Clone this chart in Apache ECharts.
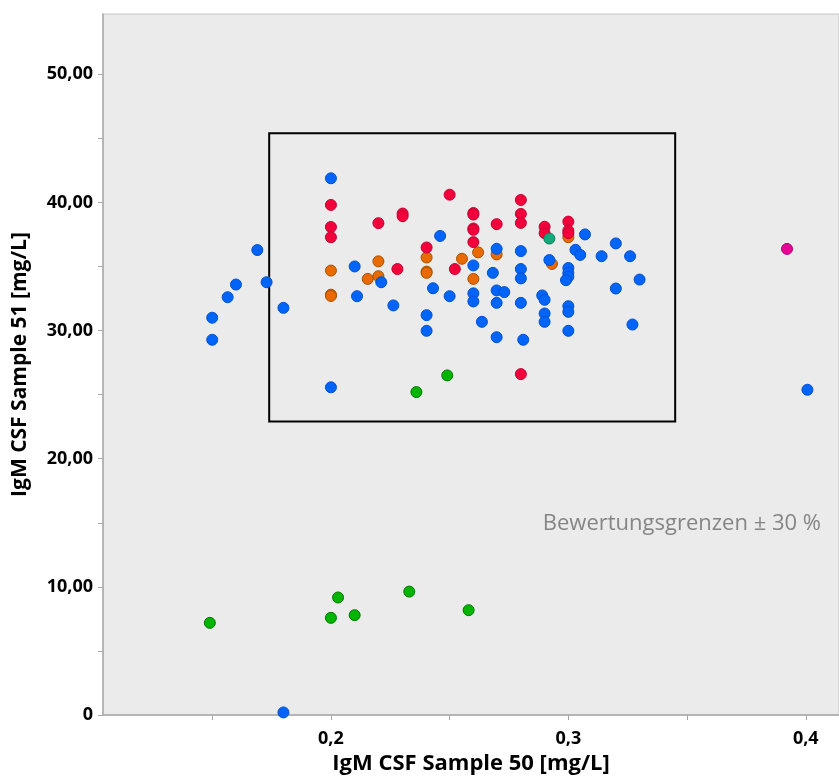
<!DOCTYPE html>
<html>
<head>
<meta charset="utf-8">
<script src="https://cdn.jsdelivr.net/npm/echarts@6/dist/echarts.min.js"></script>
<style>
html,body{margin:0;padding:0;background:#fff;}
#c{width:839px;height:780px;}
</style>
</head>
<body>
<div id="c"></div>
<script>
// ---- data ----
const blueX = [0.2,0.169,0.21,0.2212,0.160,0.1729,0.1565,0.211,0.2263,0.180,0.150,0.150,0.2,0.2698,0.246,0.28,0.26,0.2682,0.28,0.28,0.292,0.3,0.3,0.3,0.299,0.307,0.303,0.305,0.314,0.320,0.326,0.330,0.320,0.327,0.243,0.25,0.26,0.26,0.2698,0.273,0.2698,0.28,0.289,0.29,0.29,0.29,0.3,0.3,0.3,0.2403,0.2403,0.2636,0.2698,0.281,0.18,0.4007];
const blueY = [41.88,36.28,35.0,33.77,33.59,33.77,32.6,32.68,31.96,31.77,31.0,29.28,25.57,36.38,37.38,36.2,35.08,34.5,34.8,34.07,35.5,34.88,34.5,34.2,33.93,37.5,36.3,35.9,35.8,36.8,35.8,33.98,33.28,30.47,33.3,32.68,32.9,32.27,33.13,33.0,32.16,32.16,32.74,32.4,31.33,30.68,31.9,31.46,29.98,31.2,29.98,30.68,29.48,29.28,0.2,25.38];
const redX = [0.2,0.2,0.2,0.22,0.2302,0.2302,0.228,0.25,0.26,0.26,0.26,0.26,0.26,0.2698,0.28,0.28,0.28,0.29,0.29,0.3,0.3,0.3,0.2403,0.2522,0.28];
const redY = [39.8,38.08,37.28,38.38,39.13,38.92,34.8,40.6,39.17,39.05,37.96,37.86,36.9,38.3,40.19,39.1,38.4,38.1,37.6,38.5,37.8,37.6,36.48,34.8,26.6];
const orangeX = [0.2,0.22,0.2155,0.22,0.2,0.2,0.3,0.2403,0.2403,0.2403,0.2552,0.262,0.26,0.2698,0.2931];
const orangeY = [34.68,35.4,34.03,34.24,32.8,32.7,37.28,35.7,34.6,34.5,35.6,36.1,34.03,35.94,35.2];
const greenX = [0.249,0.236,0.149,0.2,0.203,0.21,0.233,0.258];
const greenY = [26.5,25.2,7.19,7.58,9.17,7.79,9.63,8.18];
const tealX = [0.292];
const tealY = [37.18];
const magentaX = [0.3921];
const magentaY = [36.37];
// evaluation limits box
const boxX = [0.174, 0.345];
const boxY = [22.9, 45.4];
// axes
const xTicks = [0.15,0.2,0.25,0.3,0.35,0.4];
const xLabels = [0.2,0.3,0.4];
const yTicks = [0,5,10,15,20,25,30,35,40,45,50];
const yLabels = [0,10,20,30,40,50];
const xName = 'IgM CSF Sample 50 [mg/L]';
const yName = 'IgM CSF Sample 51 [mg/L]';
const noteText = 'Bewertungsgrenzen ± 30 %';

const zip = (xs, ys) => xs.map((x, i) => [x, ys[i]]);
const FONT = '"Open Sans", "Noto Sans", sans-serif';

function sc(name, xs, ys, color, border, z) {
  return {
    type: 'scatter', name, data: zip(xs, ys), symbolSize: 11, z: z,
    itemStyle: { color: color, borderColor: border, borderWidth: 1, opacity: 1 },
    emphasis: { disabled: true }
  };
}

const chart = echarts.init(document.getElementById('c'));
chart.setOption({
  animation: false,
  backgroundColor: '#ffffff',
  grid: { left: 103, right: 0, top: 14, bottom: 64, show: true, backgroundColor: '#ebebeb', borderColor: '#c4c4c4', borderWidth: 1 },
  xAxis: {
    type: 'value', min: 0.104, max: 0.414,
    name: xName, nameLocation: 'middle', nameGap: 38,
    nameTextStyle: { fontFamily: FONT, fontWeight: 'bold', fontSize: 22, color: '#000' },
    axisLine: { show: true, lineStyle: { color: '#a8a8a8', width: 1.5 } },
    axisTick: { show: true, customValues: xTicks, length: 5, lineStyle: { color: '#a8a8a8' } },
    axisLabel: { customValues: xLabels, margin: 15, fontFamily: FONT, fontWeight: 'bold', fontSize: 18, color: '#000',
      formatter: v => String(Math.round(v * 10) / 10).replace('.', ',') },
    splitLine: { show: false }
  },
  yAxis: {
    type: 'value', min: 0, max: 54.7,
    name: yName, nameLocation: 'middle', nameGap: 72,
    nameTextStyle: { fontFamily: FONT, fontWeight: 'bold', fontSize: 21, color: '#000' },
    axisLine: { show: true, lineStyle: { color: '#a8a8a8', width: 1.5 } },
    axisTick: { show: true, customValues: yTicks, length: 5, lineStyle: { color: '#a8a8a8' } },
    axisLabel: { customValues: yLabels, margin: 10, fontFamily: FONT, fontWeight: 'bold', fontSize: 18, color: '#000',
      formatter: v => v === 0 ? '0' : v.toFixed(2).replace('.', ',') },
    splitLine: { show: false }
  },
  graphic: [{
    type: 'text', right: 18, top: 513,
    style: { text: noteText, fontFamily: FONT, fontSize: 22, fill: '#858585' }
  }],
  series: [
    Object.assign(sc('orange', orangeX, orangeY, '#e86a00', '#a85000', 2), {
      markArea: {
        silent: true,
        itemStyle: { color: 'rgba(0,0,0,0)', borderColor: '#000', borderWidth: 2 },
        data: [[{ coord: [boxX[0], boxY[1]] }, { coord: [boxX[1], boxY[0]] }]]
      }
    }),
    sc('red', redX, redY, '#f2003c', '#c80030', 3),
    sc('blue', blueX, blueY, '#0064f8', '#0050d0', 4),
    sc('green', greenX, greenY, '#00b400', '#007800', 5),
    sc('teal', tealX, tealY, '#16a87a', '#0a7a58', 6),
    sc('magenta', magentaX, magentaY, '#ea0096', '#b00070', 6)
  ]
});
</script>
</body>
</html>
